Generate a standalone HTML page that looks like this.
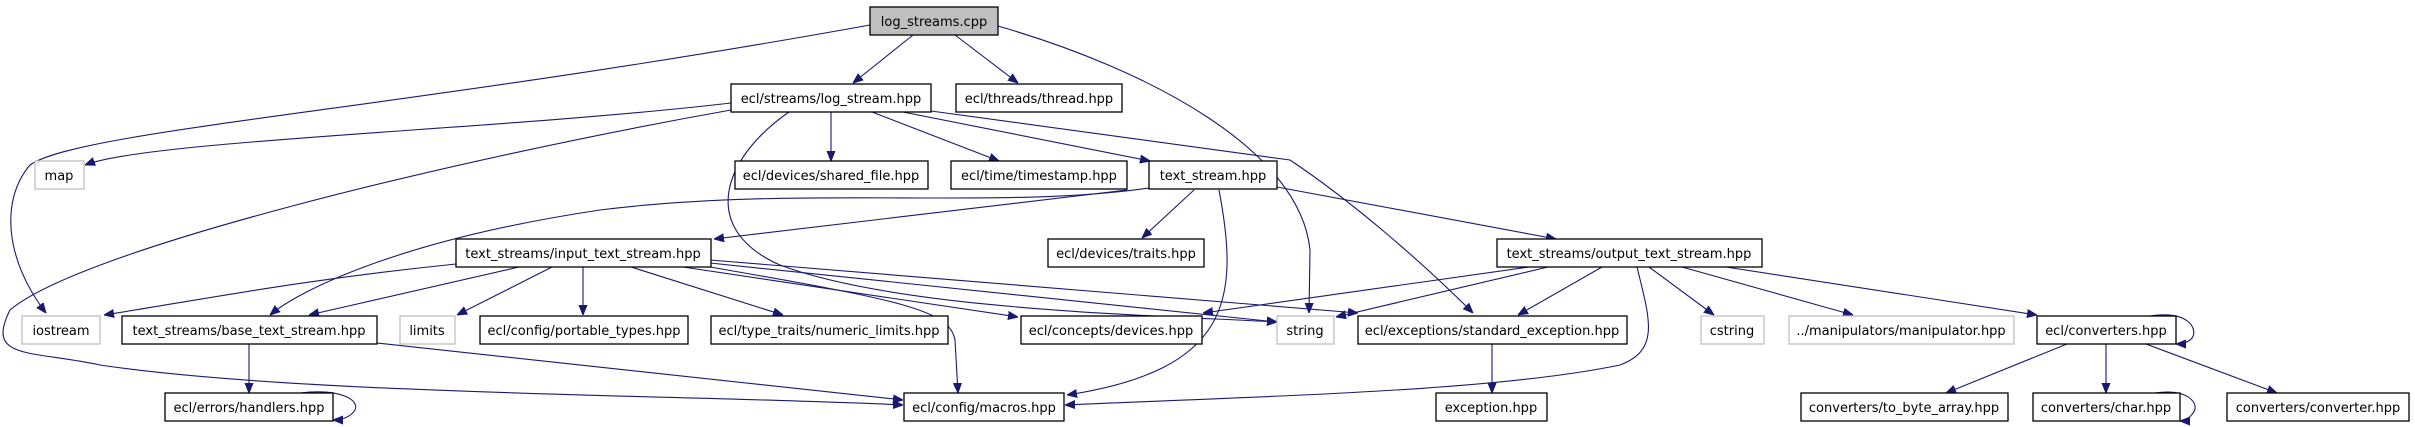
<!DOCTYPE html>
<html><head><meta charset="utf-8"><style>
html,body{margin:0;padding:0;background:#fff;}
svg{display:block}
text{font-family:"DejaVu Sans","Liberation Sans",sans-serif;font-size:13px;fill:#000;text-anchor:middle}
.n{fill:#fff;stroke:#000;stroke-width:1.3}
.g{fill:#fff;stroke:#bfbfbf;stroke-width:1.3}
.e{fill:none;stroke:#191970;stroke-width:1.1}
</style></head><body>
<svg width="2415" height="427" viewBox="0 0 2415 427">
<defs><marker id="a" viewBox="0 0 10 10" refX="10" refY="5" markerWidth="10" markerHeight="10" markerUnits="userSpaceOnUse" orient="auto"><path d="M0,1 L10,5 L0,9 z" fill="#191970" stroke="#191970"/></marker></defs>
<g marker-end="url(#a)">
<path class="e" d="M870,25 C400,110 80,130 30,165 C0,200 5,260 46,313"/>
<path class="e" d="M913,35 L853,83"/>
<path class="e" d="M955,35 L1018,83"/>
<path class="e" d="M998,26 C1150,70 1300,150 1310,250 L1309,313"/>
<path class="e" d="M731,103 C500,130 150,140 85,165"/>
<path class="e" d="M731,110 C450,160 80,250 10,310 C-15,360 30,350 100,365 C300,395 700,395 903,405"/>
<path class="e" d="M831,112 L831,161"/>
<path class="e" d="M872,112 L999,161"/>
<path class="e" d="M903,112 L1150,161"/>
<path class="e" d="M931,111 L1290,160 C1350,200 1420,260 1473,313"/>
<path class="e" d="M789,112 C720,160 700,230 780,265 C900,310 1150,315 1277,322"/>
<path class="e" d="M1149,188 C1000,210 800,185 600,210 C400,240 300,290 270,315"/>
<path class="e" d="M1127,190 L714,239"/>
<path class="e" d="M1194,190 L1142,238"/>
<path class="e" d="M1277,187 L1556,239"/>
<path class="e" d="M1219,190 C1240,300 1230,370 1067,395"/>
<path class="e" d="M456,264 C300,280 200,300 104,315"/>
<path class="e" d="M519,267 L309,315"/>
<path class="e" d="M552,267 L457,315"/>
<path class="e" d="M583,267 L583,315"/>
<path class="e" d="M631,267 L783,315"/>
<path class="e" d="M683,267 L1018,317"/>
<path class="e" d="M710,267 C900,300 950,310 955,340 L958,393"/>
<path class="e" d="M710,263 L1277,322"/>
<path class="e" d="M710,260 L1358,313"/>
<path class="e" d="M249,344 L249,393"/>
<path class="e" d="M377,343 L903,400"/>
<path class="e" d="M300,393 C340,388 360,400 355,410 C350,418 340,420 333,420"/>
<path class="e" d="M1548,267 L1336,317"/>
<path class="e" d="M1529,267 L1203,313"/>
<path class="e" d="M1602,267 L1518,315"/>
<path class="e" d="M1637,267 C1650,320 1660,350 1620,365 C1500,390 1300,395 1065,405"/>
<path class="e" d="M1649,267 L1714,315"/>
<path class="e" d="M1682,267 L1853,315"/>
<path class="e" d="M1726,267 L2037,315"/>
<path class="e" d="M2150,316 C2190,310 2198,330 2192,338 C2188,343 2182,344 2176,344"/>
<path class="e" d="M2067,344 L1946,393"/>
<path class="e" d="M2106,344 L2106,393"/>
<path class="e" d="M2146,344 L2277,393"/>
<path class="e" d="M2155,393 C2190,388 2200,405 2193,413 C2189,419 2185,421 2180,421"/>
<path class="e" d="M1492,344 L1492,393"/>
</g>
<rect x="870" y="7" width="128" height="28" fill="#bfbfbf" stroke="#000" stroke-width="1.3"/><text x="934" y="26">log_streams.cpp</text>
<rect class="n" x="731" y="84" width="200" height="28"/><text x="831" y="103">ecl/streams/log_stream.hpp</text>
<rect class="n" x="956" y="84" width="166" height="28"/><text x="1039" y="103">ecl/threads/thread.hpp</text>
<rect class="g" x="35" y="161" width="49" height="28"/><text x="59" y="180">map</text>
<rect class="n" x="735" y="161" width="193" height="28"/><text x="831" y="180">ecl/devices/shared_file.hpp</text>
<rect class="n" x="951" y="161" width="176" height="28"/><text x="1039" y="180">ecl/time/timestamp.hpp</text>
<rect class="n" x="1149" y="161" width="128" height="28"/><text x="1213" y="180">text_stream.hpp</text>
<rect class="n" x="456" y="239" width="255" height="28"/><text x="583" y="258">text_streams/input_text_stream.hpp</text>
<rect class="n" x="1048" y="239" width="156" height="28"/><text x="1126" y="258">ecl/devices/traits.hpp</text>
<rect class="n" x="1497" y="239" width="265" height="28"/><text x="1629" y="258">text_streams/output_text_stream.hpp</text>
<rect class="g" x="22" y="316" width="78" height="28"/><text x="61" y="335">iostream</text>
<rect class="n" x="122" y="316" width="255" height="28"/><text x="249" y="335">text_streams/base_text_stream.hpp</text>
<rect class="g" x="400" y="316" width="55" height="28"/><text x="427" y="335">limits</text>
<rect class="n" x="480" y="316" width="208" height="28"/><text x="584" y="335">ecl/config/portable_types.hpp</text>
<rect class="n" x="711" y="316" width="237" height="28"/><text x="829" y="335">ecl/type_traits/numeric_limits.hpp</text>
<rect class="n" x="1021" y="316" width="181" height="28"/><text x="1111" y="335">ecl/concepts/devices.hpp</text>
<rect class="g" x="1277" y="316" width="57" height="28"/><text x="1305" y="335">string</text>
<rect class="n" x="1358" y="316" width="269" height="28"/><text x="1492" y="335">ecl/exceptions/standard_exception.hpp</text>
<rect class="g" x="1701" y="316" width="63" height="28"/><text x="1732" y="335">cstring</text>
<rect class="g" x="1789" y="316" width="225" height="28"/><text x="1901" y="335">../manipulators/manipulator.hpp</text>
<rect class="n" x="2037" y="316" width="139" height="28"/><text x="2106" y="335">ecl/converters.hpp</text>
<rect class="n" x="165" y="393" width="168" height="28"/><text x="249" y="412">ecl/errors/handlers.hpp</text>
<rect class="n" x="904" y="393" width="160" height="28"/><text x="984" y="412">ecl/config/macros.hpp</text>
<rect class="n" x="1436" y="393" width="111" height="28"/><text x="1491" y="412">exception.hpp</text>
<rect class="n" x="1801" y="393" width="207" height="28"/><text x="1904" y="412">converters/to_byte_array.hpp</text>
<rect class="n" x="2033" y="393" width="147" height="28"/><text x="2106" y="412">converters/char.hpp</text>
<rect class="n" x="2227" y="393" width="182" height="28"/><text x="2318" y="412">converters/converter.hpp</text>
</svg>
</body></html>
